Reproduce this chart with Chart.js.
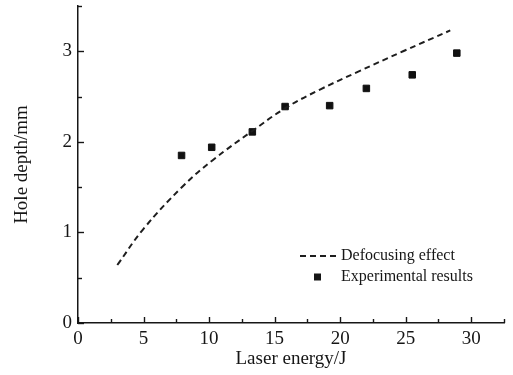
<!DOCTYPE html>
<html><head><meta charset="utf-8">
<script src="https://cdn.jsdelivr.net/npm/chart.js@4"></script>
<style>html,body{margin:0;padding:0;background:#fff}</style>
</head><body>
<canvas id="c" width="513" height="375" style="width:513px;height:375px;display:block"></canvas>
<script>
const curveEnergy = [3, 5, 8, 10.3, 13.3, 15.9, 18.5, 21.3, 24.8, 28.4];
const curveDepth  = [0.64, 1.04, 1.51, 1.80, 2.12, 2.38, 2.58, 2.77, 3.00, 3.23];
const expEnergy   = [7.9, 10.2, 13.3, 15.8, 19.2, 22.0, 25.5, 28.9];
const expDepth    = [1.85, 1.94, 2.11, 2.39, 2.40, 2.59, 2.74, 2.98];
const seriesNames = ['Defocusing effect', 'Experimental results'];
const xTickLabels = [0, 5, 10, 15, 20, 25, 30];
const yTickLabels = [0, 1, 2, 3];
const xTitle = 'Laser energy/J';
const yTitle = 'Hole depth/mm';

const INK = '#161616';
const FONT = '"Liberation Serif", "Times New Roman", serif';

function isLabelled(list, v) { return list.some(t => Math.abs(t - v) < 1e-6); }

const inwardTicks = {
  id: 'inwardTicks',
  afterDatasetsDraw(chart) {
    const {ctx, scales: {x, y}, chartArea: a} = chart;
    ctx.save();
    ctx.strokeStyle = INK; ctx.lineWidth = 1.4;
    x.ticks.forEach(t => {
      const px = Math.round(x.getPixelForValue(t.value)) + 0.5;
      const len = isLabelled(xTickLabels, t.value) ? 6 : 4;
      ctx.beginPath(); ctx.moveTo(px, a.bottom); ctx.lineTo(px, a.bottom - len); ctx.stroke();
    });
    y.ticks.forEach(t => {
      const py = Math.round(y.getPixelForValue(t.value)) + 0.5;
      const len = isLabelled(yTickLabels, t.value) ? 6 : 4;
      ctx.beginPath(); ctx.moveTo(a.left, py); ctx.lineTo(a.left + len, py); ctx.stroke();
    });
    ctx.restore();
  }
};

const innerLegend = {
  id: 'innerLegend',
  afterDatasetsDraw(chart) {
    const {ctx, chartArea: a} = chart;
    const ds = chart.data.datasets;
    const textX = a.left + 263;
    const row1 = a.top + 250, row2 = a.top + 271;
    ctx.save();
    ctx.font = '16px ' + FONT;
    ctx.fillStyle = INK;
    ctx.textBaseline = 'middle';
    ctx.strokeStyle = ds[0].borderColor; ctx.lineWidth = ds[0].borderWidth;
    ctx.setLineDash(ds[0].borderDash);
    ctx.beginPath(); ctx.moveTo(a.left + 222, row1); ctx.lineTo(a.left + 258, row1); ctx.stroke();
    ctx.setLineDash([]);
    ctx.fillText(ds[0].label, textX, row1);
    ctx.fillRect(a.left + 236, row2 - 3.5, 7, 7);
    ctx.fillText(ds[1].label, textX, row2);
    ctx.restore();
  }
};

new Chart(document.getElementById('c'), {
  type: 'scatter',
  data: {
    datasets: [
      {
        label: seriesNames[0],
        data: curveEnergy.map((v, i) => ({x: v, y: curveDepth[i]})),
        showLine: true,
        borderColor: '#1e1e1e',
        borderWidth: 2,
        borderDash: [6, 4],
        pointRadius: 0,
        tension: 0.4,
        fill: false
      },
      {
        label: seriesNames[1],
        data: expEnergy.map((v, i) => ({x: v, y: expDepth[i]})),
        showLine: false,
        pointStyle: 'rect',
        pointRadius: 4.6,
        pointBorderWidth: 1,
        backgroundColor: '#111',
        borderColor: '#111'
      }
    ]
  },
  options: {
    responsive: false,
    animation: false,
    devicePixelRatio: 1,
    layout: {padding: {left: 0, top: 6, right: 9, bottom: 0}},
    plugins: {legend: {display: false}, tooltip: {enabled: false}},
    scales: {
      x: {
        type: 'linear', min: 0, max: 32.5,
        afterFit: s => { s.height = 52; s.paddingLeft = 0; s.paddingRight = 0; },
        grid: {display: false, drawTicks: false},
        border: {display: true, color: INK, width: 1.5},
        ticks: {
          stepSize: 2.5, autoSkip: false, maxRotation: 0, padding: 5,
          color: INK, font: {family: FONT, size: 19},
          callback: v => isLabelled(xTickLabels, v) ? String(Math.round(v)) : ''
        },
        title: {display: true, text: xTitle, color: INK,
                font: {family: FONT, size: 19, lineHeight: 1.2}, padding: {top: 0, bottom: 5}}
      },
      y: {
        type: 'linear', min: 0, max: 3.5,
        afterFit: s => { s.width = 78; s.paddingTop = 0; s.paddingBottom = 0; },
        grid: {display: false, drawTicks: false},
        border: {display: true, color: INK, width: 1.5},
        ticks: {
          stepSize: 0.5, autoSkip: false, padding: 6,
          color: INK, font: {family: FONT, size: 19},
          callback: v => isLabelled(yTickLabels, v) ? String(Math.round(v)) : ''
        },
        title: {display: true, text: yTitle, color: INK,
                font: {family: FONT, size: 19, lineHeight: 1.2}, padding: {top: 11, bottom: 0}}
      }
    }
  },
  plugins: [inwardTicks, innerLegend]
});
</script>
</body></html>
